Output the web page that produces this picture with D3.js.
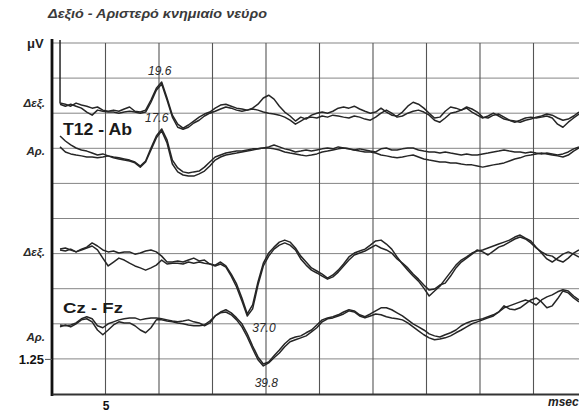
<!DOCTYPE html>
<html>
<head>
<meta charset="utf-8">
<script src="https://cdn.jsdelivr.net/npm/d3@7"></script>
<style>
  body { margin: 0; background: #fff; }
  text { font-family: "Liberation Sans", Arial, sans-serif; }
</style>
</head>
<body>
<svg id="chart"></svg>
<script>
  // axis / labels
  var title = 'Δεξιό - Αριστερό κνημιαίο νεύρο';
  var yUnit = 'μV';
  var xUnit = 'msec';
  var xTickMs = [10];
  var xTickLabels = ['5'];
  var yTicks = [1.25];
  var yTickLabels = ['1.25'];

  // montages and sides (Δεξ. = right, Αρ. = left)
  var montageNames = ['T12 - Ab', 'Cz - Fz'];
  var sideLabels = ['Δεξ.', 'Αρ.', 'Δεξ.', 'Αρ.'];
  var channelBaselines = [10.11, 8.69, 5.02, 2.64]; // μV, display offset of each channel
  var stimulusArtifact = 2.5; // μV, spike at the start of the first channel

  // samples every 1 ms, first one at 1.5 ms
  var sampleMs = d3.range(98).map(function(i) { return 1.5 + i; });

  // two superimposed runs per channel, μV relative to channel baseline
  var rightT12Run1 = [0.25,0.21,0.14,0.25,0.18,0.14,0.07,0.11,0,-0.04,
    0,-0.04,0.04,0.11,-0.04,-0.07,0,0.36,0.78,1.00,
    0.43,-0.18,-0.50,-0.64,-0.53,-0.39,-0.25,-0.14,-0.07,0.07,
    0.18,0.21,0.14,0.07,0.04,0,0.07,0.21,0.43,0.53,
    0.39,0.14,-0.07,-0.21,-0.39,-0.25,-0.32,-0.18,-0.11,-0.07,
    -0.11,-0.04,0.07,0.11,0.07,0.14,0.04,-0.04,-0.11,-0.07,
    0.07,-0.07,-0.18,-0.21,-0.07,0.14,0.28,0.21,0.07,-0.11,
    -0.28,-0.25,-0.04,0.11,0.07,0,0.07,-0.07,-0.18,-0.28,
    -0.21,-0.11,-0.21,-0.32,-0.36,-0.39,-0.43,-0.36,-0.32,-0.25,
    -0.21,-0.14,-0.18,-0.28,-0.36,-0.32,-0.21,-0.07];
  var rightT12Run2 = [0.21,0.14,0.21,0.14,0.07,-0.07,-0.18,0,-0.04,-0.07,
    -0.07,-0.11,-0.07,-0.04,-0.07,-0.11,-0.07,0.28,0.71,0.93,
    0.36,-0.25,-0.61,-0.68,-0.61,-0.46,-0.36,-0.21,-0.11,-0.04,
    0.04,0.11,0.07,0,-0.04,0,0.04,0,-0.07,-0.11,
    -0.14,-0.18,-0.25,-0.36,-0.50,-0.39,-0.28,-0.25,-0.28,-0.21,
    -0.25,-0.18,-0.21,-0.25,-0.28,-0.21,-0.25,-0.32,-0.36,-0.25,
    -0.11,0,-0.11,-0.25,-0.21,-0.11,-0.04,0,-0.07,-0.18,
    -0.36,-0.43,-0.28,-0.11,-0.07,0,0.11,0.04,-0.07,-0.25,
    -0.28,-0.18,-0.14,-0.25,-0.36,-0.43,-0.36,-0.28,-0.25,-0.28,
    -0.25,-0.21,-0.28,-0.50,-0.61,-0.43,-0.28,-0.14];
  var leftT12Run1 = [0.50,0.32,0.18,0.07,0,-0.04,-0.11,-0.18,-0.14,-0.21,
    -0.25,-0.28,-0.32,-0.36,-0.43,-0.57,-0.39,0.07,0.50,0.75,
    0.36,-0.36,-0.64,-0.78,-0.82,-0.78,-0.75,-0.61,-0.43,-0.25,
    -0.18,-0.11,-0.07,-0.04,-0.04,0,0.04,0.04,0.07,0.11,
    0.18,0.11,0.04,0,-0.07,-0.04,0,-0.04,0,0.04,
    0.07,0.04,0.11,0.07,0.04,0,0.04,0,-0.04,-0.07,
    0.04,0.07,0,0,0.04,0.07,0.07,0,-0.04,-0.07,
    -0.07,-0.11,-0.07,-0.11,-0.14,-0.18,-0.14,-0.18,-0.18,-0.14,
    -0.11,-0.07,-0.04,0,-0.04,-0.07,-0.07,-0.11,-0.07,-0.11,
    -0.14,-0.11,-0.14,-0.18,-0.14,-0.07,0.04,0.11];
  var leftT12Run2 = [0.11,-0.07,-0.14,-0.18,-0.21,-0.25,-0.25,-0.28,-0.25,-0.21,
    -0.28,-0.32,-0.36,-0.39,-0.46,-0.61,-0.43,0,0.43,0.68,
    0.25,-0.50,-0.78,-0.89,-0.93,-0.93,-0.85,-0.75,-0.57,-0.36,
    -0.25,-0.18,-0.14,-0.11,-0.07,-0.04,0,0.04,0.07,0.07,
    0.04,0,-0.07,-0.11,-0.14,-0.18,-0.21,-0.18,-0.14,-0.07,
    -0.04,0,0.04,0.07,0.04,0,-0.04,-0.07,-0.07,-0.11,
    -0.18,-0.21,-0.25,-0.28,-0.25,-0.21,-0.18,-0.25,-0.32,-0.36,
    -0.39,-0.43,-0.43,-0.46,-0.46,-0.50,-0.53,-0.53,-0.57,-0.61,
    -0.57,-0.53,-0.50,-0.46,-0.39,-0.32,-0.28,-0.21,-0.18,-0.14,
    -0.11,-0.14,-0.18,-0.21,-0.25,-0.18,-0.04,0.07];
  var rightCzRun1 = [0.14,0.18,0.11,0.04,0.14,0.21,0.36,0.25,0.11,0.04,
    0.07,0,0.04,0.04,-0.04,0,0.07,0.11,0.04,-0.11,
    -0.32,-0.32,-0.28,-0.32,-0.25,-0.18,-0.28,-0.25,-0.39,-0.43,
    -0.32,-0.46,-0.75,-1.10,-1.60,-2.17,-1.85,-1.03,-0.36,0,
    0.21,0.39,0.46,0.39,0.18,-0.11,-0.32,-0.53,-0.64,-0.75,
    -0.89,-0.78,-0.61,-0.39,-0.14,0,0.07,0.14,0.28,0.43,
    0.46,0.32,0.14,-0.14,-0.39,-0.61,-0.82,-1.00,-1.25,-1.53,
    -1.35,-1.18,-0.93,-0.68,-0.43,-0.25,-0.14,0,0.07,0.11,
    0.18,0.25,0.32,0.39,0.46,0.57,0.64,0.53,0.43,0.21,
    0,-0.21,-0.32,-0.18,-0.04,0.04,-0.04,-0.14];
  var rightCzRun2 = [0.11,0.07,0.14,0.04,0.11,0.18,0.25,0.11,-0.18,-0.46,
    -0.32,-0.18,-0.25,-0.36,-0.46,-0.53,-0.61,-0.53,-0.43,-0.25,
    -0.39,-0.36,-0.36,-0.39,-0.32,-0.36,-0.32,-0.36,-0.39,-0.46,
    -0.39,-0.50,-0.82,-1.21,-1.71,-2.24,-1.99,-1.14,-0.46,-0.11,
    0.14,0.28,0.36,0.28,0.11,-0.21,-0.43,-0.61,-0.71,-0.82,
    -0.93,-0.85,-0.68,-0.46,-0.25,-0.07,0,0.07,0.18,0.28,
    0.18,0.11,0,-0.21,-0.36,-0.53,-0.75,-0.93,-1.14,-1.32,
    -1.28,-1.14,-1.07,-0.82,-0.53,-0.32,-0.18,-0.04,0.11,0.04,
    -0.07,0.07,0.21,0.28,0.39,0.50,0.57,0.50,0.36,0.18,
    0.04,-0.07,-0.11,-0.25,-0.32,-0.18,0,0.11];
  var leftCzRun1 = [-0.18,-0.21,-0.18,-0.11,0.04,0.11,0.04,-0.21,-0.28,-0.14,
    -0.07,0,0.04,0.07,0.07,0,0.04,0.07,0.07,0.04,
    0,-0.04,-0.07,-0.04,0,-0.07,-0.11,-0.21,-0.11,0.14,
    0.28,0.36,0.25,0.07,-0.14,-0.50,-0.93,-1.32,-1.57,-1.50,
    -1.28,-1.07,-0.85,-0.68,-0.61,-0.57,-0.46,-0.36,-0.18,0,
    0.07,0.11,0.18,0.28,0.36,0.32,0.18,0.11,0.21,0.32,
    0.43,0.43,0.36,0.25,0.14,0,-0.14,-0.25,-0.36,-0.50,
    -0.57,-0.61,-0.53,-0.46,-0.36,-0.21,-0.11,-0.04,0,0.04,
    0.11,0.18,0.28,0.43,0.50,0.57,0.64,0.71,0.64,0.53,
    0.71,0.82,0.89,1.00,1.07,1.03,0.85,0.71];
  var leftCzRun2 = [-0.25,-0.18,-0.25,-0.14,0,0.04,-0.07,-0.36,-0.53,-0.36,
    -0.18,-0.07,-0.11,-0.11,-0.21,-0.36,-0.46,-0.28,0,0,
    -0.04,-0.07,-0.11,-0.14,-0.18,-0.21,-0.21,-0.18,-0.04,0.14,
    0.25,0.28,0.18,0,-0.25,-0.61,-1.03,-1.42,-1.64,-1.53,
    -1.35,-1.18,-0.96,-0.78,-0.71,-0.64,-0.57,-0.43,-0.28,-0.07,
    0.04,0.07,0.14,0.21,0.32,0.28,0.14,0.07,0.14,0.21,
    0.18,0.11,0.07,0.04,0,-0.11,-0.25,-0.39,-0.53,-0.64,
    -0.71,-0.68,-0.64,-0.57,-0.46,-0.36,-0.25,-0.14,-0.07,0,
    0.07,0.14,0.28,0.50,0.39,0.36,0.43,0.57,0.71,0.78,
    0.64,0.43,0.50,0.75,1.03,0.96,0.78,0.64];

  // peak latencies written on the record
  var peakLabels = ['19.6', '17.6', '37.0', '39.8'];

  var width = 579, height = 413;
  var svg = d3.select('#chart')
      .attr('width', width)
      .attr('height', height);

  var x = d3.scaleLinear().domain([0, 100]).range([52, 587]);
  var y = d3.scaleLinear().domain([0, 12.5]).range([394, 43]);

  // grid
  svg.append('g')
    .selectAll('line')
    .data(d3.range(1.25, 12.6, 1.25))
    .enter().append('line')
    .attr('x1', x(0)).attr('x2', x(100))
    .attr('y1', function(d) { return y(d); })
    .attr('y2', function(d) { return y(d); })
    .style('stroke', '#858585')
    .style('stroke-width', 1);

  svg.append('g')
    .selectAll('line')
    .data(d3.range(10, 101, 10))
    .enter().append('line')
    .attr('x1', function(d) { return x(d); })
    .attr('x2', function(d) { return x(d); })
    .attr('y1', y(0)).attr('y2', y(12.5))
    .style('stroke', '#555')
    .style('stroke-width', 1.1);

  // axes
  var yAxis = svg.append('g')
    .attr('transform', 'translate(' + x(0) + ',0)')
    .call(d3.axisLeft(y).tickValues(yTicks).tickSize(7).tickSizeOuter(0).tickPadding(1)
      .tickFormat(function(d, i) { return yTickLabels[i]; }));
  yAxis.select('.domain').attr('d', 'M0,' + (y(12.5) - 4) + 'V' + (y(0) + 2))
    .style('stroke', '#111').style('stroke-width', 2.8);
  yAxis.selectAll('.tick line').style('stroke', '#555');
  yAxis.selectAll('.tick text')
    .style('font-size', '13px').style('font-weight', 'bold').style('fill', '#111');

  var xAxis = svg.append('g')
    .attr('transform', 'translate(0,' + y(0) + ')')
    .call(d3.axisBottom(x).tickValues(xTickMs).tickSize(0).tickSizeOuter(0).tickPadding(7)
      .tickFormat(function(d, i) { return xTickLabels[i]; }));
  xAxis.select('.domain').style('stroke', '#333').style('stroke-width', 2);
  xAxis.selectAll('.tick text')
    .style('font-size', '12px').style('font-weight', 'bold').style('fill', '#111');

  // title and units
  svg.append('text')
    .attr('x', 48).attr('y', 18)
    .attr('textLength', 219).attr('lengthAdjust', 'spacingAndGlyphs')
    .style('font-size', '12px').style('font-style', 'italic').style('font-weight', 'bold')
    .style('fill', '#3a3a3a')
    .text(title);

  svg.append('text')
    .attr('x', 27).attr('y', 48)
    .style('font-size', '13px').style('font-weight', 'bold').style('fill', '#222')
    .text(yUnit);

  svg.append('text')
    .attr('x', 548).attr('y', 406)
    .style('font-size', '12px').style('font-style', 'italic').style('font-weight', 'bold')
    .style('fill', '#222')
    .text(xUnit);

  // side labels
  var sideDy = [-3, 5, 3, 21];
  svg.append('g')
    .selectAll('text')
    .data(sideLabels)
    .enter().append('text')
    .attr('x', 45)
    .attr('y', function(d, i) { return y(channelBaselines[i]) + sideDy[i]; })
    .style('text-anchor', 'end')
    .style('font-size', '11.5px').style('font-style', 'italic').style('font-weight', 'bold')
    .style('fill', '#2a2a2a')
    .text(function(d) { return d; });

  // montage names
  var montageAt = [{ ch: 1, dy: -15, len: 69, size: 16 }, { ch: 3, dy: -7, len: 60, size: 15 }];
  svg.append('g')
    .selectAll('text')
    .data(montageNames)
    .enter().append('text')
    .attr('x', 63)
    .attr('y', function(d, i) { return y(channelBaselines[montageAt[i].ch]) + montageAt[i].dy; })
    .attr('textLength', function(d, i) { return montageAt[i].len; })
    .attr('lengthAdjust', 'spacingAndGlyphs')
    .style('font-size', function(d, i) { return montageAt[i].size + 'px'; })
    .style('font-weight', 'bold')
    .style('fill', '#1a1a1a')
    .text(function(d) { return d; });

  // traces
  var runs = [
    { ch: 0, values: rightT12Run1, artifact: true },
    { ch: 0, values: rightT12Run2 },
    { ch: 1, values: leftT12Run1 },
    { ch: 1, values: leftT12Run2 },
    { ch: 2, values: rightCzRun1 },
    { ch: 2, values: rightCzRun2 },
    { ch: 3, values: leftCzRun1 },
    { ch: 3, values: leftCzRun2 }
  ];

  var line = d3.line()
    .x(function(d) { return x(d.ms); })
    .y(function(d) { return y(d.uV); });

  runs.forEach(function(run) {
    var base = channelBaselines[run.ch];
    var pts = run.values.map(function(v, i) { return { ms: sampleMs[i], uV: base + v }; });
    if (run.artifact) {
      pts.unshift({ ms: sampleMs[0], uV: base + stimulusArtifact });
    }
    svg.append('path')
      .datum(pts)
      .attr('d', line)
      .style('fill', 'none')
      .style('stroke', '#262626')
      .style('stroke-width', 1.5)
      .style('stroke-linejoin', 'round');
  });

  // peak latency annotations
  var peakAt = [
    { run: 0, kind: 'max', dx: -2, dy: -7, anchor: 'middle' },
    { run: 2, kind: 'max', dx: -5, dy: -7, anchor: 'middle' },
    { run: 5, kind: 'min', dx: 5, dy: 16, anchor: 'start' },
    { run: 7, kind: 'min', dx: 3, dy: 21, anchor: 'middle' }
  ];
  svg.append('g')
    .selectAll('text')
    .data(peakLabels)
    .enter().append('text')
    .each(function(d, i) {
      var p = peakAt[i];
      var vals = runs[p.run].values;
      var k = p.kind === 'max' ? d3.maxIndex(vals) : d3.minIndex(vals);
      var base = channelBaselines[runs[p.run].ch];
      d3.select(this)
        .attr('x', x(sampleMs[k]) + p.dx)
        .attr('y', y(base + vals[k]) + p.dy)
        .style('text-anchor', p.anchor);
    })
    .style('font-size', '12px').style('font-style', 'italic')
    .style('fill', '#2a2a2a')
    .text(function(d) { return d; });
</script>
</body>
</html>
